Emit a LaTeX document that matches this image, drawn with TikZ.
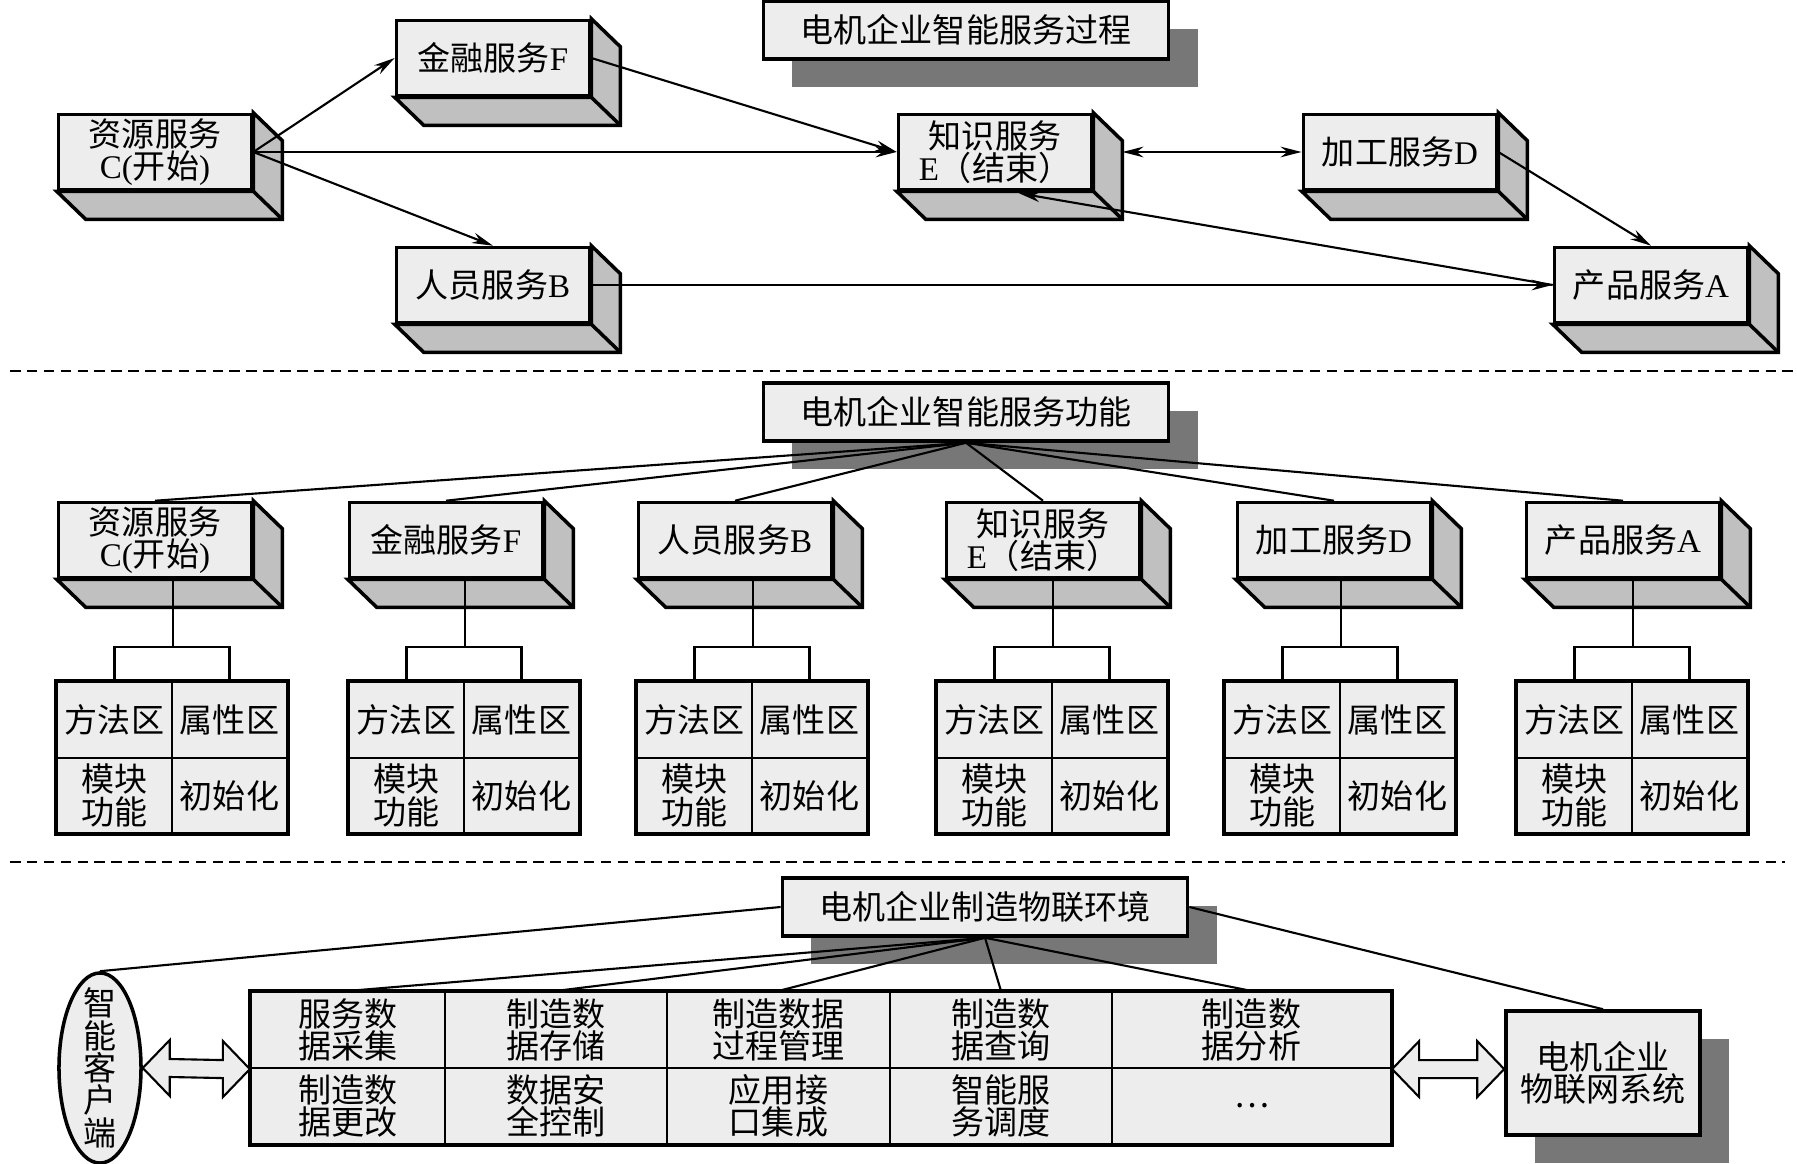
\documentclass[tikz,border=0pt]{standalone}
\usepackage{fontspec}
\setmainfont{Noto Sans CJK SC}
\newfontfamily\latinrm{Liberation Serif}
\usetikzlibrary{calc}
\usetikzlibrary{shapes.geometric}
\usetikzlibrary{shadows}
\usetikzlibrary{arrows.meta}
\definecolor{faceGray}{HTML}{EDEDED}
\definecolor{sideGray}{HTML}{C0C0C0}
\definecolor{shadowGray}{HTML}{777777}

% right and bottom faces of a service box
\newcommand{\boxside}[1]{%
  \filldraw[boxface] (#1.north east) -- ++(29,28) -- ($(#1.south east)+(29,28)$)
    -- ($(#1.south west)+(29,28)$) -- (#1.south west) -- (#1.south east) -- cycle;
  \draw[boxface] (#1.south east) -- ++(29,28);
}
% hollow two-headed block arrow
\newcommand{\dblarrow}[2]{%
  \draw[blockarrow] (#1) -- ++(27,-28) -- ++(0,19) -- ($(#2)+(-27,-9)$) -- ++(0,-19)
    -- (#2) -- ++(-27,28) -- ++(0,-19) -- ($(#1)+(27,9)$) -- ++(0,19) -- cycle;
}

\begin{document}
\begin{tikzpicture}[x=0.01cm, y=-0.01cm, >={Stealth[length=6pt,width=3pt]},
    every node/.style={font=\fontsize{9.4}{9.2}\selectfont}]
  \tikzset{
    svcbox/.style={draw, line width=1pt, fill=faceGray, minimum width=1.93cm,
      minimum height=0.75cm, inner sep=0pt, align=center},
    boxface/.style={line width=1pt, fill=sideGray, line join=miter},
    headbox/.style={draw, line width=1pt, fill=faceGray, minimum width=4.05cm,
      minimum height=0.58cm, inner sep=0pt,
      drop shadow={shadow xshift=0.29cm, shadow yshift=-0.28cm, fill=shadowGray, opacity=1}},
    cell/.style={draw, line width=0.6pt, fill=faceGray, minimum width=1.15cm,
      minimum height=0.755cm, inner sep=0pt, align=center},
    envcell/.style={draw, line width=0.6pt, fill=faceGray, minimum height=0.76cm,
      inner sep=0pt, align=center},
    outer/.style={line width=1pt},
    link/.style={line width=0.6pt},
    arr/.style={link, ->},
    sep/.style={line width=0.6pt, dash pattern=on 3pt off 1.8pt},
    blockarrow/.style={draw, line width=0.6pt, fill=faceGray, line join=miter}
  }
  \useasboundingbox (0,0) rectangle (1797,1164);

  % process
  \node[headbox] (proc) at (966,30) {电机企业智能服务过程};
  \node[svcbox] (srvC1) at (155,152) {资源服务\\{\latinrm C(}开始{\latinrm )}};
  \node[svcbox] (srvF1) at (493,58) {金融服务{\latinrm F}};
  \node[svcbox] (srvB1) at (493,285) {人员服务{\latinrm B}};
  \node[svcbox] (srvE1) at (995,152) {知识服务\\{\latinrm E}（结束）};
  \node[svcbox] (srvD1) at (1400,152) {加工服务{\latinrm D}};
  \node[svcbox] (srvA1) at (1651,285) {产品服务{\latinrm A}};
  \foreach \b in {srvC1,srvF1,srvB1,srvE1,srvD1,srvA1} {\boxside{\b}}
  \draw[arr] (srvC1.east) -- (srvF1.west);
  \draw[arr] (srvC1.east) -- (srvE1.west);
  \draw[arr] (srvC1.east) -- (srvB1.north);
  \draw[arr] (srvF1.east) -- (srvE1.west);
  \draw[link,<->] ($(srvE1.east)+(29,0)$) -- (srvD1.west);
  \draw[arr] (srvD1.east) -- (srvA1.north);
  \draw[arr] (srvA1.west) -- ($(srvE1.south)+(24,2)$);
  \draw[arr] (srvB1.east) -- (srvA1.west);

  \draw[sep] (10,371) -- (1797,371);

  % functions
  \node[headbox] (func) at (966,412) {电机企业智能服务功能};
  \node[svcbox] (srvC2) at (155,540) {资源服务\\{\latinrm C(}开始{\latinrm )}};
  \node[svcbox] (srvF2) at (446,540) {金融服务{\latinrm F}};
  \node[svcbox] (srvB2) at (735,540) {人员服务{\latinrm B}};
  \node[svcbox] (srvE2) at (1043,540) {知识服务\\{\latinrm E}（结束）};
  \node[svcbox] (srvD2) at (1334,540) {加工服务{\latinrm D}};
  \node[svcbox] (srvA2) at (1623,540) {产品服务{\latinrm A}};
  \foreach \b in {srvC2,srvF2,srvB2,srvE2,srvD2,srvA2} {\boxside{\b}}
  \foreach \n in {C,F,B,E,D,A} {\draw[link] (func.south) -- (srv\n2.north);}
  \foreach \n/\cx in {C/172, F/464, B/752, E/1052, D/1340, A/1632} {
    \node[cell] (meth\n) at (\cx-57.5,720) {方法区};
    \node[cell] (attr\n) at (\cx+57.5,720) {属性区};
    \node[cell] (modu\n) at (\cx-57.5,795.5) {模块\\功能};
    \node[cell] (init\n) at (\cx+57.5,795.5) {初始化};
    \draw[outer] (meth\n.north west) rectangle (init\n.south east);
    \draw[link] (meth\n.north) -- ++(0,-34) -| (attr\n.north);
    \draw[link] (srv\n2.south -| meth\n.north east) -- ($(meth\n.north east)+(0,-34)$);
  }

  \draw[sep] (10,862) -- (1785,862);

  % environment
  \node[headbox] (env) at (985,907) {电机企业制造物联环境};
  \node[draw, line width=1pt, fill=faceGray, ellipse, minimum width=0.82cm,
    minimum height=1.9cm, inner sep=0pt] (client) at (100,1068) {};
  \node[align=center, inner sep=0pt] (clientlbl) at (client.center) {智\\能\\客\\户\\端};
  \node[draw, line width=1pt, fill=faceGray, minimum width=1.94cm, minimum height=1.24cm,
    inner sep=0pt, align=center,
    drop shadow={shadow xshift=0.29cm, shadow yshift=-0.28cm, fill=shadowGray, opacity=1}]
    (iot) at (1603,1073) {电机企业\\物联网系统};

  \node[envcell, minimum width=1.94cm] (t11) at (348,1030) {服务数\\据采集};
  \node[envcell, minimum width=2.22cm] (t12) at (556,1030) {制造数\\据存储};
  \node[envcell, minimum width=2.23cm] (t13) at (778.5,1030) {制造数据\\过程管理};
  \node[envcell, minimum width=2.22cm] (t14) at (1001,1030) {制造数\\据查询};
  \node[envcell, minimum width=2.79cm] (t15) at (1251.5,1030) {制造数\\据分析};
  \node[envcell, minimum width=1.94cm] (t21) at (348,1106) {制造数\\据更改};
  \node[envcell, minimum width=2.22cm] (t22) at (556,1106) {数据安\\全控制};
  \node[envcell, minimum width=2.23cm] (t23) at (778.5,1106) {应用接\\口集成};
  \node[envcell, minimum width=2.22cm] (t24) at (1001,1106) {智能服\\务调度};
  \node[envcell, minimum width=2.79cm] (t25) at (1251.5,1106) {…};
  \draw[outer] (t11.north west) rectangle (t25.south east);

  \draw[link] (env.west) -- (client.north);
  \draw[link] (env.east) -- (iot.north);
  \foreach \k in {1,...,5} {\draw[link] (env.south) -- (t1\k.north);}

  \coordinate (iotin) at (t15.south east -| iot.west);
  \dblarrow{client.east}{t11.south west}
  \dblarrow{t15.south east}{iotin}
\end{tikzpicture}
\end{document}
